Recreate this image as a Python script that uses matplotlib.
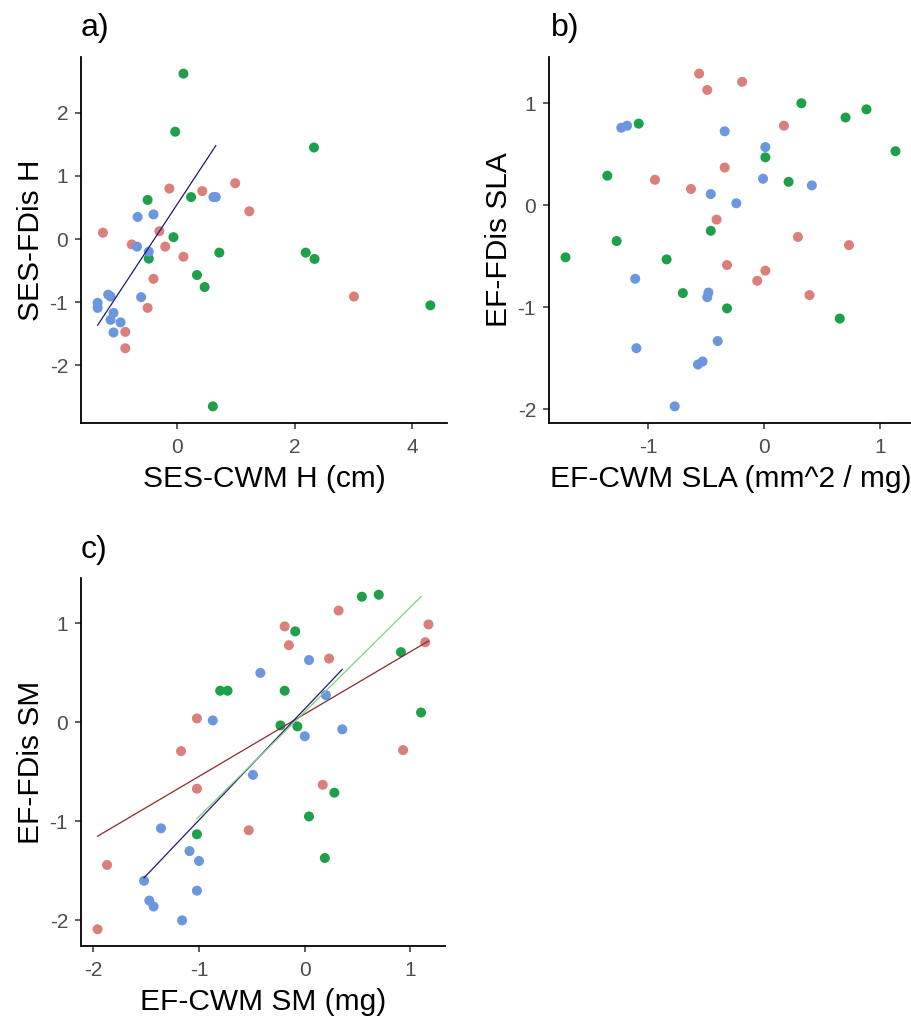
import numpy as np
import matplotlib
matplotlib.use("Agg")
import matplotlib.pyplot as plt

plt.rcParams['font.family'] = ['Liberation Sans', 'DejaVu Sans']
plt.rcParams['axes.unicode_minus'] = False

# group colours (ggplot-like hues as they appear in the picture)
col_red = '#DA7F7A'
col_green = '#1E9F4A'
col_blue = '#6A97DE'

# panel a: SES-CWM H vs SES-FDis H
a_red_x = [-1.26, -0.13, 0.43, 0.99, 1.23, -0.30, -0.77, -0.20, 0.11, -0.40, -0.50, -0.88, -0.88, 3.01]
a_red_y = [0.10, 0.80, 0.76, 0.885, 0.44, 0.125, -0.085, -0.12, -0.28, -0.63, -1.09, -1.47, -1.73, -0.91]
a_green_x = [0.11, -0.03, 2.33, -0.50, 0.24, -0.06, 0.72, 2.19, 2.34, 0.34, 0.47, -0.48, 0.61, 4.31]
a_green_y = [2.62, 1.70, 1.45, 0.62, 0.665, 0.03, -0.215, -0.215, -0.315, -0.57, -0.76, -0.31, -2.65, -1.05]
a_blue_x = [0.62, 0.66, -0.67, -0.40, -0.68, -0.48, -1.17, -1.13, -1.35, -1.35, -1.08, -1.13, -0.96, -1.08, -0.61]
a_blue_y = [0.665, 0.665, 0.35, 0.39, -0.12, -0.20, -0.88, -0.91, -1.01, -1.09, -1.17, -1.28, -1.32, -1.48, -0.92]

# panel b: EF-CWM SLA vs EF-FDis SLA
b_red_x = [-0.56, -0.49, -0.19, 0.17, -0.34, -0.94, -0.63, -0.41, 0.29, 0.73, -0.32, 0.01, -0.06, 0.39]
b_red_y = [1.29, 1.13, 1.21, 0.78, 0.37, 0.25, 0.16, -0.14, -0.31, -0.39, -0.585, -0.64, -0.74, -0.88]
b_green_x = [-1.71, -1.35, -1.08, -1.27, -0.84, -0.70, -0.46, -0.32, 0.01, 0.21, 0.32, 0.70, 0.88, 1.13, 0.65]
b_green_y = [-0.51, 0.29, 0.80, -0.35, -0.53, -0.86, -0.25, -1.01, 0.47, 0.23, 1.00, 0.86, 0.94, 0.53, -1.11]
b_blue_x = [-1.23, -1.18, -0.34, 0.01, -0.01, 0.41, -0.46, -0.24, -1.11, -0.48, -0.49, -0.40, -1.10, -0.57, -0.53, -0.77]
b_blue_y = [0.76, 0.78, 0.725, 0.57, 0.26, 0.195, 0.11, 0.02, -0.72, -0.855, -0.90, -1.33, -1.40, -1.56, -1.53, -1.97]

# panel c: EF-CWM SM vs EF-FDis SM
c_red_x = [-1.87, -1.96, -1.17, -1.02, -1.02, -0.53, -0.19, -0.15, 0.23, 0.32, 1.17, 1.14, 0.93, 0.17]
c_red_y = [-1.44, -2.09, -0.29, 0.04, -0.67, -1.09, 0.97, 0.78, 0.645, 1.13, 0.99, 0.81, -0.28, -0.63]
c_green_x = [0.54, 0.70, -0.09, -0.80, -0.73, -0.19, 0.91, 1.10, -0.23, -0.07, 0.28, 0.04, 0.19, -1.02]
c_green_y = [1.27, 1.29, 0.92, 0.32, 0.32, 0.32, 0.71, 0.10, -0.03, -0.04, -0.71, -0.95, -1.37, -1.13]
c_blue_x = [0.04, -0.42, -0.87, 0.20, 0.00, 0.355, -0.49, -1.36, -1.09, -1.00, -1.52, -1.02, -1.47, -1.43, -1.16]
c_blue_y = [0.63, 0.50, 0.02, 0.275, -0.14, -0.07, -0.53, -1.07, -1.30, -1.40, -1.60, -1.70, -1.80, -1.86, -2.00]

# fitted lines: (slope, intercept)
a_blue_fit = (1.415, 0.546)
c_red_fit = (0.630, 0.085)
c_green_fit = (1.058, 0.107)
c_blue_fit = (1.123, 0.137)

line_red = '#8B2A2A'
line_green = '#7CCF7C'
line_blue = '#1C1C6E'

W, H = 912, 1025
fig = plt.figure(figsize=(W / 100, H / 100), dpi=100)


def px_axes(left, top, right, bottom):
    return fig.add_axes([left / W, 1 - bottom / H, (right - left) / W, (bottom - top) / H])


def style(ax, xlabel, ylabel, xticks, yticks):
    for s in ['top', 'right']:
        ax.spines[s].set_visible(False)
    for s in ['left', 'bottom']:
        ax.spines[s].set_linewidth(1.3)
        ax.spines[s].set_color('black')
    ax.set_xticks(xticks)
    ax.set_yticks(yticks)
    ax.tick_params(length=4.3, width=1.1, color='#333333', labelsize=15,
                   labelcolor='#4D4D4D')
    ax.tick_params(axis='x', pad=6.5)
    ax.tick_params(axis='y', pad=5)
    ax.set_xlabel(xlabel, fontsize=21.5, labelpad=6)
    ax.set_ylabel(ylabel, fontsize=21.5, labelpad=3)


def points(ax, groups):
    for gx, gy, c in groups:
        ax.scatter(gx, gy, s=52, color=c, edgecolors='none', zorder=2)


def fit_line(ax, gx, fit, c):
    xs = np.array([min(gx), max(gx)])
    ax.plot(xs, fit[0] * xs + fit[1], color=c, lw=0.9, zorder=3)


ax_a = px_axes(81, 57, 447, 423)
points(ax_a, [(a_red_x, a_red_y, col_red), (a_green_x, a_green_y, col_green),
              (a_blue_x, a_blue_y, col_blue)])
fit_line(ax_a, a_blue_x, a_blue_fit, line_blue)
style(ax_a, 'SES-CWM H (cm)', 'SES-FDis H', [0, 2, 4], [-2, -1, 0, 1, 2])

ax_b = px_axes(549, 57, 912, 423)
points(ax_b, [(b_red_x, b_red_y, col_red), (b_green_x, b_green_y, col_green),
              (b_blue_x, b_blue_y, col_blue)])
style(ax_b, 'EF-CWM SLA (mm^2 / mg)', 'EF-FDis SLA', [-1, 0, 1], [-2, -1, 0, 1])

ax_c = px_axes(81, 578, 445, 946)
points(ax_c, [(c_red_x, c_red_y, col_red), (c_green_x, c_green_y, col_green),
              (c_blue_x, c_blue_y, col_blue)])
fit_line(ax_c, c_red_x, c_red_fit, line_red)
fit_line(ax_c, c_blue_x, c_blue_fit, line_blue)
fit_line(ax_c, c_green_x, c_green_fit, line_green)
style(ax_c, 'EF-CWM SM (mg)', 'EF-FDis SM', [-2, -1, 0, 1], [-2, -1, 0, 1])

fig.text(81 / W, 1 - 36 / H, 'a)', fontsize=23, va='baseline')
fig.text(551 / W, 1 - 36 / H, 'b)', fontsize=23, va='baseline')
fig.text(81 / W, 1 - 558 / H, 'c)', fontsize=23, va='baseline')

fig.savefig('out.png', dpi=100)
